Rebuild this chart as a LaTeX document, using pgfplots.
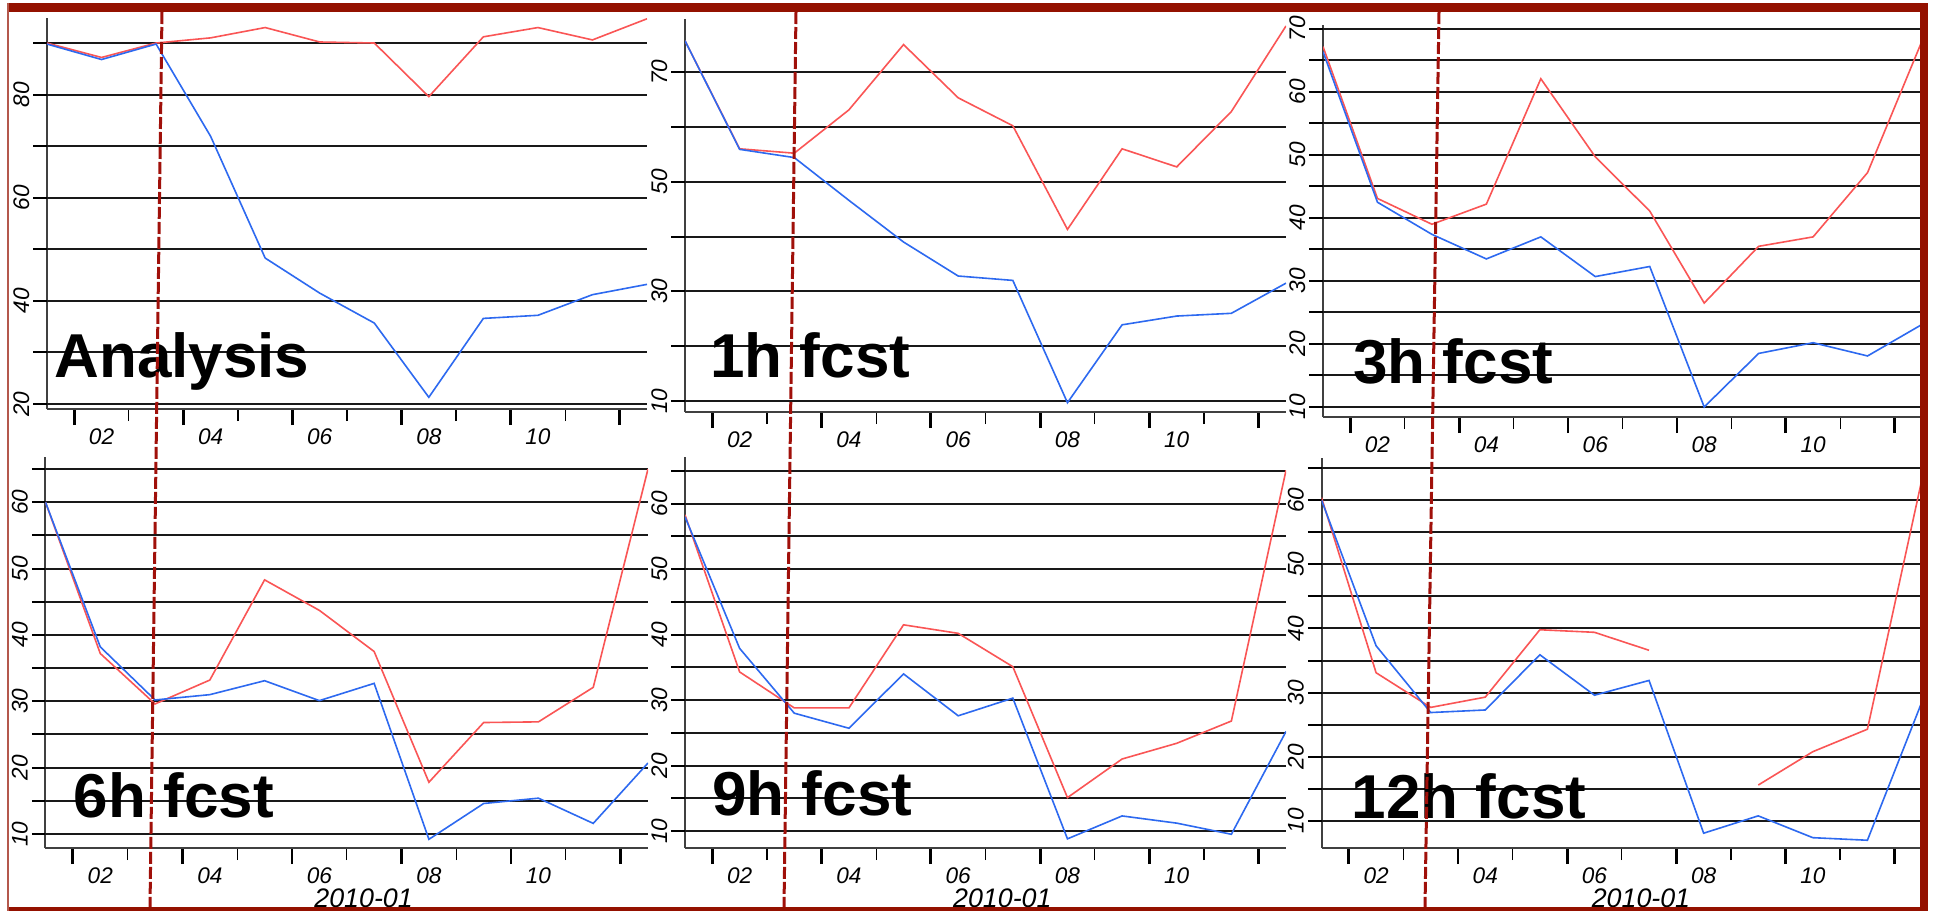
\documentclass[border=0pt]{standalone}
\usepackage{fontspec}
\setmainfont{Liberation Sans}
\usepackage{pgfplots}
\pgfplotsset{compat=1.18}
\definecolor{bord}{RGB}{148,17,0}
\definecolor{dred}{RGB}{160,16,10}
\definecolor{lred}{RGB}{250,85,85}
\definecolor{lblue}{RGB}{45,105,240}
\newcommand\tickfont{\fontsize{11.3}{13}\selectfont\itshape}
\newcommand\bigfont{\fontsize{31}{36}\selectfont\bfseries}
\newcommand\datefont{\fontsize{13.4}{15}\selectfont\itshape}
\tikzset{big/.style={anchor=base west, inner sep=0pt, font=\bigfont}}
\pgfplotsset{
 panel/.style={
  scale only axis, anchor=south west,
  axis lines=left,
  axis line style={-, draw=black!75, line width=1pt},
  xmin=1, xmax=12,
  tick align=outside,
  xtick={1.5,3.5,5.5,7.5,9.5,11.5}, xticklabels={},
  major tick length=8pt,
  minor xtick={2.5,4.5,6.5,8.5,10.5},
  minor tick length=6pt,
  every major tick/.append style={line width=1.4pt, black},
  every minor tick/.append style={line width=0.65pt, black},
  extra x ticks={2,4,6,8,10},
  extra x tick labels={02,04,06,08,10},
  extra x tick style={major tick length=0pt, grid=none, every major tick/.append style={draw=none}},
  xticklabel style={font=\tickfont, anchor=north, inner sep=0pt, yshift=-9.5pt},
  ytick=\empty,
  extra y tick style={major tick length=6.8pt, grid=major, every major tick/.append style={line width=1pt}},
  yticklabel style={font=\tickfont, rotate=90, anchor=south, inner sep=1.8pt},
  major grid style={line width=1pt, black!90},
  unbounded coords=jump,
  every axis plot/.append style={line width=0.8pt},
  xlabel style={at={(rel axis cs:0.528,0)}, anchor=north, yshift=-20pt, inner sep=0pt, font=\datefont},
 },
}
\begin{document}
\begin{tikzpicture}
\useasboundingbox (0,0) rectangle (966.5pt,-455.5pt);
\fill[white] (0,0) rectangle (966.5pt,-455.5pt);

% Analysis
\begin{axis}[panel, at={(23.5pt,-204.5pt)}, width=300pt, height=195.5pt,
  ymin=19.03, ymax=94.85,
  extra y ticks={20,30,40,50,60,70,80,90},
  extra y tick labels={20,,40,,60,,80,}]
\addplot[lred] coordinates {(1,90) (2,87.2) (3,90) (4,91.0) (5,93.0) (6,90.2) (7,90.0) (8,79.6) (9,91.2) (10,93.0) (11,90.6) (12,94.7)};
\addplot[lblue] coordinates {(1,89.8) (2,86.8) (3,89.8) (4,71.9) (5,48.3) (6,41.5) (7,35.7) (8,21.3) (9,36.6) (10,37.2) (11,41.2) (12,43.2)};
\node[big, xshift=3.5pt, yshift=16pt] at (rel axis cs:0,0) {Analysis};
\end{axis}

% 1h
\begin{axis}[panel, at={(342.5pt,-206pt)}, width=300.5pt, height=196.5pt,
  ymin=8.0, ymax=79.67,
  extra y ticks={10,20,30,40,50,60,70},
  extra y tick labels={10,,30,,50,,70}]
\addplot[lred] coordinates {(1,75.7) (2,56.0) (3,55.2) (4,63.1) (5,75.0) (6,65.3) (7,60.2) (8,41.3) (9,56.0) (10,52.7) (11,62.8) (12,78.4)};
\addplot[lblue] coordinates {(1,75.7) (2,55.9) (3,54.4) (4,46.6) (5,39.0) (6,32.8) (7,32.0) (8,9.7) (9,23.9) (10,25.5) (11,26.0) (12,31.5)};
\node[big, xshift=12.5pt, yshift=17.5pt] at (rel axis cs:0,0) {1h fcst};
\end{axis}

% 3h
\begin{axis}[panel, at={(661.5pt,-208.5pt)}, width=299.5pt, height=196pt,
  ymin=8.41, ymax=70.63,
  extra y ticks={10,15,20,25,30,35,40,45,50,55,60,65,70},
  extra y tick labels={10,,20,,30,,40,,50,,60,,70}]
\addplot[lred] coordinates {(1,67.2) (2,43.1) (3,39.0) (4,42.2) (5,62.1) (6,49.7) (7,41.1) (8,26.5) (9,35.5) (10,37.0) (11,47.2) (12,68.1)};
\addplot[lblue] coordinates {(1,66.4) (2,42.5) (3,37.4) (4,33.5) (5,37.0) (6,30.7) (7,32.3) (8,10.0) (9,18.5) (10,20.2) (11,18.1) (12,23.1)};
\node[big, xshift=15pt, yshift=17pt] at (rel axis cs:0,0) {3h fcst};
\end{axis}

% 6h
\begin{axis}[panel, at={(22.75pt,-424pt)}, width=301.25pt, height=195.5pt,
  ymin=7.89, ymax=66.81,
  extra y ticks={10,15,20,25,30,35,40,45,50,55,60,65},
  extra y tick labels={10,,20,,30,,40,,50,,60,},
  xlabel={2010-01}]
\addplot[lred] coordinates {(1,60) (2,37.2) (3,29.6) (4,33.2) (5,48.3) (6,43.7) (7,37.5) (8,17.8) (9,26.8) (10,26.9) (11,32.1) (12,65.0)};
\addplot[lblue] coordinates {(1,60) (2,38.2) (3,30.2) (4,31.0) (5,33.1) (6,30.1) (7,32.7) (8,9.2) (9,14.6) (10,15.4) (11,11.6) (12,20.7)};
\node[big, xshift=14pt, yshift=15.5pt] at (rel axis cs:0,0) {6h fcst};
\end{axis}

% 9h
\begin{axis}[panel, at={(342.5pt,-424pt)}, width=300.5pt, height=195.5pt,
  ymin=7.40, ymax=67.14,
  extra y ticks={10,15,20,25,30,35,40,45,50,55,60,65},
  extra y tick labels={10,,20,,30,,40,,50,,60,},
  xlabel={2010-01}]
\addplot[lred] coordinates {(1,58.3) (2,34.3) (3,28.8) (4,28.8) (5,41.5) (6,40.2) (7,35.1) (8,15.1) (9,21.0) (10,23.4) (11,26.8) (12,65.1)};
\addplot[lblue] coordinates {(1,58.0) (2,37.9) (3,28.0) (4,25.7) (5,34.0) (6,27.6) (7,30.3) (8,8.8) (9,12.3) (10,11.2) (11,9.5) (12,25.2)};
\node[big, xshift=13.5pt, yshift=16.5pt] at (rel axis cs:0,0) {9h fcst};
\end{axis}

% 12h
\begin{axis}[panel, at={(660.75pt,-424pt)}, width=300.25pt, height=195pt,
  ymin=5.79, ymax=66.56,
  extra y ticks={10,15,20,25,30,35,40,45,50,55,60,65},
  extra y tick labels={10,,20,,30,,40,,50,,60,},
  xlabel={2010-01}, xlabel style={at={(rel axis cs:0.532,0)}}]
\addplot[lred] coordinates {(1,60.4) (2,33.1) (3,27.7) (4,29.3) (5,39.8) (6,39.4) (7,36.6) (8,nan) (9,15.6) (10,20.8) (11,24.3) (12,63.3)};
\addplot[lblue] coordinates {(1,60) (2,37.3) (3,26.9) (4,27.3) (5,35.9) (6,29.6) (7,31.9) (8,8.1) (9,10.8) (10,7.4) (11,7.0) (12,28.6)};
\node[big, xshift=15pt, yshift=15pt] at (rel axis cs:0,0) {12h fcst};
\end{axis}

% vertical dashed markers
\draw[dred, line width=1.5pt, dash pattern=on 6pt off 1.5pt] (81pt,-6pt) -- (75pt,-453.5pt);
\draw[dred, line width=1.5pt, dash pattern=on 6pt off 1.5pt] (398pt,-6pt) -- (392pt,-453.5pt);
\draw[dred, line width=1.5pt, dash pattern=on 6pt off 1.5pt] (719.5pt,-6pt) -- (712.5pt,-453.5pt);

% frame
\fill[bord] (4pt,-1.5pt) rectangle (964pt,-6pt);
\fill[bord] (960pt,-1.5pt) rectangle (964pt,-455.5pt);
\fill[bord] (4pt,-453.5pt) rectangle (964pt,-455.5pt);
\draw[bord!70, line width=0.7pt] (4pt,-1.5pt) -- (4pt,-455.5pt);
\end{tikzpicture}
\end{document}
